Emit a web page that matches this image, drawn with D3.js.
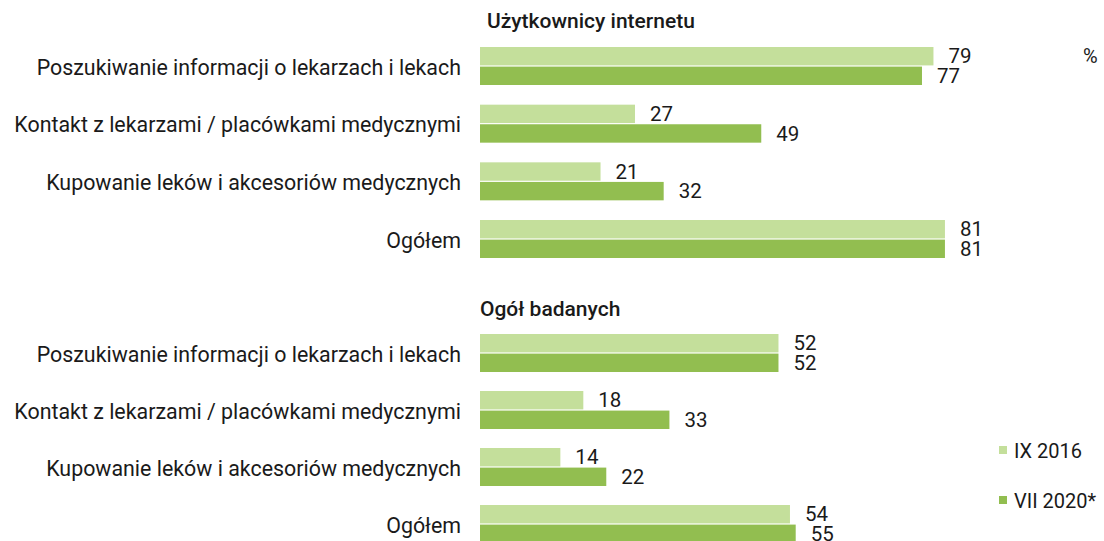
<!DOCTYPE html>
<html>
<head>
<meta charset="utf-8">
<script src="https://cdn.jsdelivr.net/npm/d3@7"></script>
<style>
  body { margin: 0; background: #fff; }
  text { font-family: Roboto, "Noto Sans", sans-serif; fill: #1a1a1a; }
</style>
</head>
<body>
<div id="chart"></div>
<script>
// data
var categories = [
  "Poszukiwanie informacji o lekarzach i lekach",
  "Kontakt z lekarzami / placówkami medycznymi",
  "Kupowanie leków i akcesoriów medycznych",
  "Ogółem"
];
var seriesNames = ["IX 2016", "VII 2020*"];
var sectionTitles = ["Użytkownicy internetu", "Ogół badanych"];
var internet2016 = [79, 27, 21, 81];
var internet2020 = [77, 49, 32, 81];
var all2016 = [52, 18, 14, 54];
var all2020 = [52, 33, 22, 55];

var colors = ["#c4df9b", "#92be50"];

var width = 1104, height = 541;

var svg = d3.select("#chart").append("svg")
    .attr("width", width)
    .attr("height", height);

var x = d3.scaleLinear().domain([0, 100]).range([480, 480 + 574]);

var inner = d3.scaleBand()
    .domain(seriesNames)
    .range([-19, 19])
    .paddingInner(0.06);

var sections = [
  { title: sectionTitles[0], titleX: 487, titleY: 28, rows: [66, 239], vals: [internet2016, internet2020] },
  { title: sectionTitles[1], titleX: 480, titleY: 316, rows: [353, 524], vals: [all2016, all2020] }
];

sections.forEach(function (s) {
  var y = d3.scalePoint().domain(categories).range(s.rows);

  svg.append("text")
      .attr("x", s.titleX)
      .attr("y", s.titleY)
      .attr("font-size", 21)
      .attr("font-weight", 500)
      .text(s.title);

  var rows = categories.map(function (c, i) {
    return { cat: c, v: [s.vals[0][i], s.vals[1][i]] };
  });

  var g = svg.selectAll(null)
      .data(rows)
      .enter()
      .append("g")
      .attr("transform", d => "translate(0," + y(d.cat) + ")");

  g.append("text")
      .attr("x", 461)
      .attr("y", 1)
      .attr("dy", "0.35em")
      .attr("text-anchor", "end")
      .attr("font-size", 21.4)
      .text(d => d.cat);

  var bars = g.selectAll("g.bar")
      .data(d => d.v.map((v, k) => ({ name: seriesNames[k], v: v, k: k })))
      .enter()
      .append("g")
      .attr("class", "bar");

  bars.append("rect")
      .attr("x", x(0))
      .attr("y", d => inner(d.name))
      .attr("width", d => x(d.v) - x(0))
      .attr("height", inner.bandwidth())
      .attr("fill", d => colors[d.k]);

  bars.append("text")
      .attr("x", d => x(d.v) + 15)
      .attr("y", d => inner(d.name) + inner.bandwidth() / 2)
      .attr("dy", "0.35em")
      .attr("font-size", 20.5)
      .text(d => d.v);
});

// percent sign
svg.append("text")
    .attr("x", 1083)
    .attr("y", 63)
    .attr("font-size", 20)
    .text("%");

// legend
var legend = svg.selectAll("g.legend")
    .data(seriesNames)
    .enter()
    .append("g")
    .attr("class", "legend")
    .attr("transform", (d, i) => "translate(999," + (450 + i * 50) + ")");

legend.append("rect")
    .attr("x", 0)
    .attr("y", -4)
    .attr("width", 8)
    .attr("height", 8)
    .attr("fill", (d, i) => colors[i]);

legend.append("text")
    .attr("x", 15)
    .attr("y", 1)
    .attr("dy", "0.35em")
    .attr("font-size", 20)
    .text(d => d);
</script>
</body>
</html>
